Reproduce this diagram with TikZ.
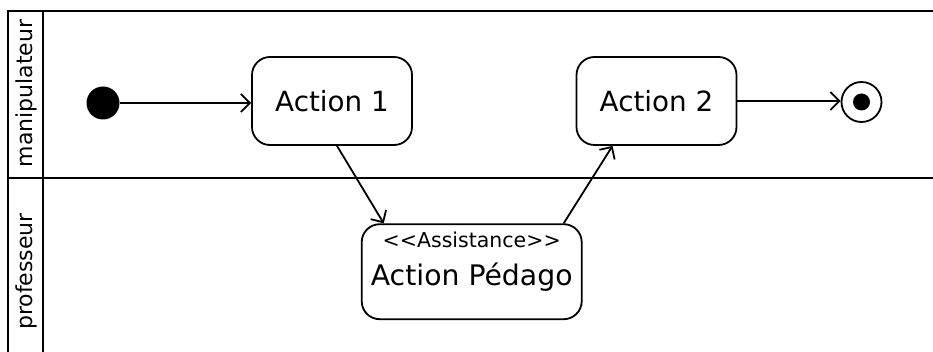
\documentclass[tikz,border=0pt]{standalone}
\usepackage{fontspec}
\setmainfont{DejaVu Sans}
\usetikzlibrary{arrows.meta,calc}
\tikzset{
  lw/.style={line width=1.8pt},
  actionbox/.style={lw, draw, rectangle, rounded corners=18pt, minimum width=160pt, minimum height=88pt, inner sep=0pt, font=\fontsize{27.8}{32}\selectfont},
  arr/.style={lw, -{Straight Barb[length=9pt,width=18pt,line width=1.8pt]}},
  lanelabel/.style={rotate=90, font=\fontsize{22}{26}\selectfont, inner sep=0pt},
}
\begin{document}
\begin{tikzpicture}[x=1pt,y=-1pt]
\useasboundingbox (0,0) rectangle (933,352);
% swimlane frame
\draw[lw] (8,352) -- (8,11) -- (933,11);
\draw[lw] (43,11) -- (43,352);
\draw[lw] (8,178) -- (933,178);
\node[lanelabel] (l1) at (26,93.5) {manipulateur};
\node[lanelabel] (l2) at (26,271.5) {professeur};
% nodes
\node[circle, fill=black, minimum size=33pt, inner sep=0pt] (init) at (103,103) {};
\node[actionbox] (a1) at (332,101) {Action 1};
\node[actionbox] (a2) at (656.5,101) {Action 2};
\node[circle, draw, lw, minimum size=40pt, inner sep=0pt] (fin) at (861.5,102) {};
\node[circle, fill=black, minimum size=17pt, inner sep=0pt] (finin) at (fin.center) {};
\node[actionbox, minimum width=220pt, minimum height=95pt] (ap) at (471.7,271.7) {};
\node[font=\fontsize{20.5}{24}\selectfont, inner sep=0pt] (st) at ([yshift=-17pt]ap.north) {<\kern0pt<Assistance>\kern0pt>};
\node[font=\fontsize{28.3}{32}\selectfont, inner sep=0pt] (apt) at ([yshift=-5pt]ap.center) {Action Pédago};
% connectors
\draw[arr] (init.east) -- (a1.west |- init.east);
\draw[arr] ([xshift=5pt]a1.south) -- ([xshift=-88pt]ap.north);
\draw[arr] ([xshift=92pt]ap.north) -- ([xshift=-44pt]a2.south);
\draw[arr] (a2.east) -- (fin.west |- a2.east);
\end{tikzpicture}
\end{document}
